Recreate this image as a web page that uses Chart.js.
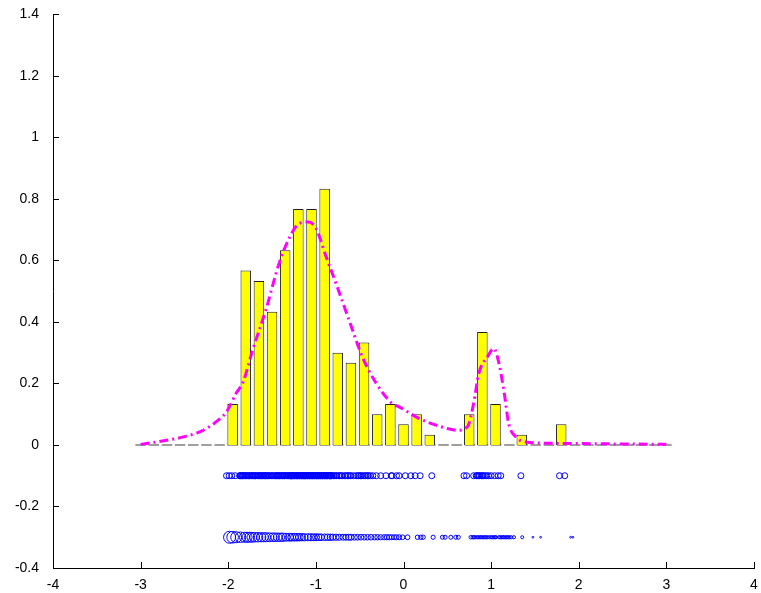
<!DOCTYPE html>
<html>
<head>
<meta charset="utf-8">
<script src="https://cdn.jsdelivr.net/npm/chart.js@4"></script>
<style>
  html, body { margin: 0; padding: 0; background: #fff; }
  canvas { display: block; }
</style>
</head>
<body>
<canvas id="kdeChart" width="761" height="593"></canvas>
<script>
// histogram (normalised), only non-empty bins
const binCenters = [-1.95, -1.8, -1.65, -1.5, -1.35, -1.2, -1.05, -0.9, -0.75, -0.6, -0.45, -0.3, -0.15, 0, 0.15, 0.3, 0.75, 0.9, 1.05, 1.35, 1.8];
const binHeights = [0.133, 0.567, 0.533, 0.433, 0.633, 0.767, 0.767, 0.833, 0.300, 0.267, 0.333, 0.100, 0.133, 0.067, 0.100, 0.033, 0.100, 0.367, 0.133, 0.033, 0.067];
// empty bins show up as a flat grey line between these bar edges
const histRange = [-3.06, 3.06];

// density estimate (dash-dot curve)
const kdeX = [-3.0, -2.75, -2.5, -2.3, -2.14, -2.02, -1.91, -1.83, -1.72, -1.57, -1.42, -1.30, -1.19, -1.08, -1.0, -0.88, -0.77, -0.62, -0.47, -0.31, -0.13, -0.05, 0.18, 0.41, 0.62, 0.73, 0.80, 0.86, 0.96, 1.03, 1.09, 1.15, 1.20, 1.28, 1.39, 1.85, 3.0];
const kdeY = [0.002, 0.013, 0.027, 0.046, 0.075, 0.108, 0.168, 0.205, 0.31, 0.44, 0.59, 0.675, 0.72, 0.725, 0.705, 0.61, 0.525, 0.405, 0.287, 0.20, 0.135, 0.124, 0.086, 0.061, 0.048, 0.059, 0.135, 0.233, 0.287, 0.314, 0.265, 0.168, 0.070, 0.027, 0.010, 0.005, 0.002];

// samples (row at y = -0.1)
const samples = [
  -2.02, -1.99, -1.96, -1.92,
  -1.87, -1.865, -1.86, -1.85, -1.84, -1.835, -1.83, -1.82, -1.81, -1.80, -1.79, -1.785, -1.77, -1.76, -1.755, -1.74, -1.73,
  -1.72, -1.715, -1.70, -1.69, -1.685, -1.67, -1.66, -1.65, -1.64, -1.63, -1.62, -1.61, -1.60, -1.59, -1.58, -1.577,
  -1.57, -1.56, -1.55, -1.54, -1.53, -1.51, -1.50, -1.49, -1.47, -1.46, -1.45, -1.44, -1.43,
  -1.42, -1.415, -1.40, -1.39, -1.38, -1.37, -1.36, -1.355, -1.34, -1.33, -1.32, -1.315, -1.30, -1.295, -1.29, -1.285, -1.28, -1.278, -1.276,
  -1.27, -1.265, -1.26, -1.25, -1.245, -1.24, -1.23, -1.225, -1.22, -1.21, -1.205, -1.20, -1.19, -1.185, -1.18, -1.17, -1.165, -1.16, -1.15, -1.145, -1.14, -1.13, -1.127,
  -1.12, -1.115, -1.11, -1.10, -1.095, -1.09, -1.08, -1.075, -1.07, -1.06, -1.055, -1.05, -1.04, -1.035, -1.03, -1.02, -1.015, -1.01, -1.00, -0.995, -0.99, -0.98, -0.977,
  -0.97, -0.965, -0.96, -0.95, -0.945, -0.94, -0.93, -0.925, -0.92, -0.91, -0.905, -0.90, -0.89, -0.885, -0.88, -0.87, -0.865, -0.86, -0.85, -0.845, -0.84, -0.835, -0.83, -0.828, -0.826,
  -0.82, -0.80, -0.79, -0.77, -0.76, -0.74, -0.73, -0.71, -0.70,
  -0.67, -0.66, -0.64, -0.63, -0.61, -0.60, -0.57, -0.54,
  -0.52, -0.51, -0.49, -0.48, -0.46, -0.44, -0.43, -0.41, -0.40, -0.38,
  -0.35, -0.31, -0.26,
  -0.20, -0.14, -0.13, -0.08,
  -0.05, 0.02,
  0.084, 0.133, 0.19,
  0.323,
  0.69, 0.72, 0.80,
  0.83, 0.84, 0.85, 0.86, 0.87, 0.89, 0.90, 0.91, 0.93, 0.95, 0.97,
  1.0, 1.04, 1.08, 1.11,
  1.34,
  1.78, 1.84
];
const sampleRowY = -0.1;

// kernel widths (row at y = -0.3)
const kernelX = [-1.985, -1.95, -1.909, -1.86, -1.814, -1.785, -1.757, -1.73, -1.70, -1.66, -1.624, -1.595, -1.567, -1.53, -1.492, -1.465, -1.435, -1.405, -1.378, -1.34, -1.302, -1.275, -1.245, -1.215, -1.188, -1.16, -1.131, -1.09, -1.055, -1.025, -0.998, -0.97, -0.941, -0.90, -0.866, -0.835, -0.809, -0.77, -0.733, -0.69, -0.656, -0.625, -0.599, -0.56, -0.524, -0.485, -0.448, -0.41, -0.371, -0.33, -0.296, -0.26, -0.22, -0.19, -0.163, -0.135, -0.106, -0.08, -0.049, -0.011, 0.046, 0.159, 0.198, 0.224, 0.338, 0.444, 0.475, 0.54, 0.597, 0.626, 0.768, 0.79, 0.805, 0.82, 0.84, 0.855, 0.87, 0.885, 0.90, 0.915, 0.93, 0.945, 0.96, 0.98, 1.0, 1.015, 1.03, 1.045, 1.055, 1.09, 1.105, 1.12, 1.135, 1.15, 1.165, 1.18, 1.195, 1.21, 1.23, 1.26, 1.355, 1.477, 1.565, 1.907, 1.933];
const kernelR = [6, 5.8, 5.5, 5.2, 5, 5, 5, 4.9, 4.8, 4.7, 4.6, 4.5, 4.5, 4.4, 4.3, 4.2, 4.2, 4.1, 4.1, 4, 4, 3.9, 3.9, 3.8, 3.8, 3.7, 3.7, 3.6, 3.6, 3.5, 3.5, 3.4, 3.4, 3.3, 3.3, 3.2, 3.2, 3.1, 3.1, 3, 3, 3, 3, 2.9, 2.9, 2.8, 2.8, 2.8, 2.8, 2.7, 2.7, 2.6, 2.6, 2.6, 2.6, 2.5, 2.5, 2.5, 2.5, 2.4, 2.4, 2.2, 2.2, 2.2, 2.1, 2, 2, 2, 2, 2, 1.8, 1.7, 1.7, 1.6, 1.6, 1.6, 1.6, 1.6, 1.6, 1.6, 1.6, 1.6, 1.6, 1.6, 1.6, 1.6, 1.6, 1.6, 1.6, 1.6, 1.6, 1.6, 1.6, 1.6, 1.6, 1.6, 1.6, 1.6, 1.6, 1.6, 1.5, 0.9, 0.9, 0.9, 0.9];
const kernelRowY = -0.3;

const xTicks = { min: -4, max: 4, step: 1 };
const yTicks = { min: -0.4, max: 1.4, step: 0.2 };

// matlab style ticks pointing into the plot
const inwardTicks = {
    id: 'inwardTicks',
    afterDraw(chart) {
        const { ctx, chartArea, scales } = chart;
        ctx.save();
        ctx.strokeStyle = '#000';
        ctx.lineWidth = 1;
        scales.x.ticks.forEach(t => {
            const px = Math.round(scales.x.getPixelForValue(t.value)) + 0.5;
            ctx.beginPath();
            ctx.moveTo(px, chartArea.bottom);
            ctx.lineTo(px, chartArea.bottom - 6);
            ctx.stroke();
        });
        scales.y.ticks.forEach(t => {
            const py = Math.round(scales.y.getPixelForValue(t.value)) + 0.5;
            ctx.beginPath();
            ctx.moveTo(chartArea.left, py);
            ctx.lineTo(chartArea.left + 6, py);
            ctx.stroke();
        });
        ctx.restore();
    }
};

const tickFont = { family: "'Liberation Sans', Arial, sans-serif", size: 14 };

const kdeChart = new Chart(document.getElementById('kdeChart').getContext('2d'), {
    type: 'bar',
    data: {
        datasets: [
            {
                type: 'line',
                label: 'density',
                data: kdeX.map((x, i) => ({ x: x, y: kdeY[i] })),
                borderColor: '#ff00ff',
                borderWidth: 3,
                borderDash: [9, 4, 2, 4],
                pointRadius: 0,
                cubicInterpolationMode: 'monotone',
                fill: false,
                order: 0
            },
            {
                type: 'scatter',
                label: 'samples',
                data: samples.map(x => ({ x: x, y: sampleRowY })),
                borderColor: '#0000ff',
                backgroundColor: 'rgba(0,0,0,0)',
                borderWidth: 1,
                pointRadius: 3,
                order: 1
            },
            {
                type: 'scatter',
                label: 'kernels',
                data: kernelX.map(x => ({ x: x, y: kernelRowY })),
                borderColor: '#0000ff',
                backgroundColor: 'rgba(0,0,0,0)',
                borderWidth: 1,
                pointRadius: kernelR,
                order: 1
            },
            {
                label: 'histogram',
                data: binCenters.map((x, i) => ({ x: x, y: binHeights[i] })),
                backgroundColor: '#ffff00',
                borderColor: '#222',
                borderWidth: 1,
                barPercentage: 0.8,
                categoryPercentage: 1,
                order: 2
            },
            {
                type: 'line',
                label: 'empty bins',
                data: histRange.map(x => ({ x: x, y: 0 })),
                borderColor: '#808080',
                borderWidth: 1.5,
                borderDash: [10.5, 2.67],
                pointRadius: 0,
                order: 3
            }
        ]
    },
    options: {
        responsive: false,
        animation: false,
        events: [],
        layout: { padding: { top: 14, right: 6, left: 0, bottom: 0 } },
        scales: {
            x: {
                type: 'linear',
                min: xTicks.min,
                max: xTicks.max,
                offset: false,
                grid: { display: false },
                border: { display: true, color: '#000', width: 1 },
                ticks: {
                    stepSize: xTicks.step,
                    padding: 1,
                    color: '#000',
                    font: tickFont,
                    maxRotation: 0,
                    callback: v => String(v)
                },
                afterFit: scale => { scale.height = 25; }
            },
            y: {
                min: yTicks.min,
                max: yTicks.max,
                grid: { display: false },
                border: { display: true, color: '#000', width: 1 },
                ticks: {
                    stepSize: yTicks.step,
                    padding: 6,
                    color: '#000',
                    font: tickFont,
                    callback: v => String(Math.round(v * 10) / 10)
                },
                afterFit: scale => { scale.width = 53; }
            }
        },
        plugins: {
            legend: { display: false },
            tooltip: { enabled: false }
        }
    },
    plugins: [inwardTicks]
});
</script>
</body>
</html>
